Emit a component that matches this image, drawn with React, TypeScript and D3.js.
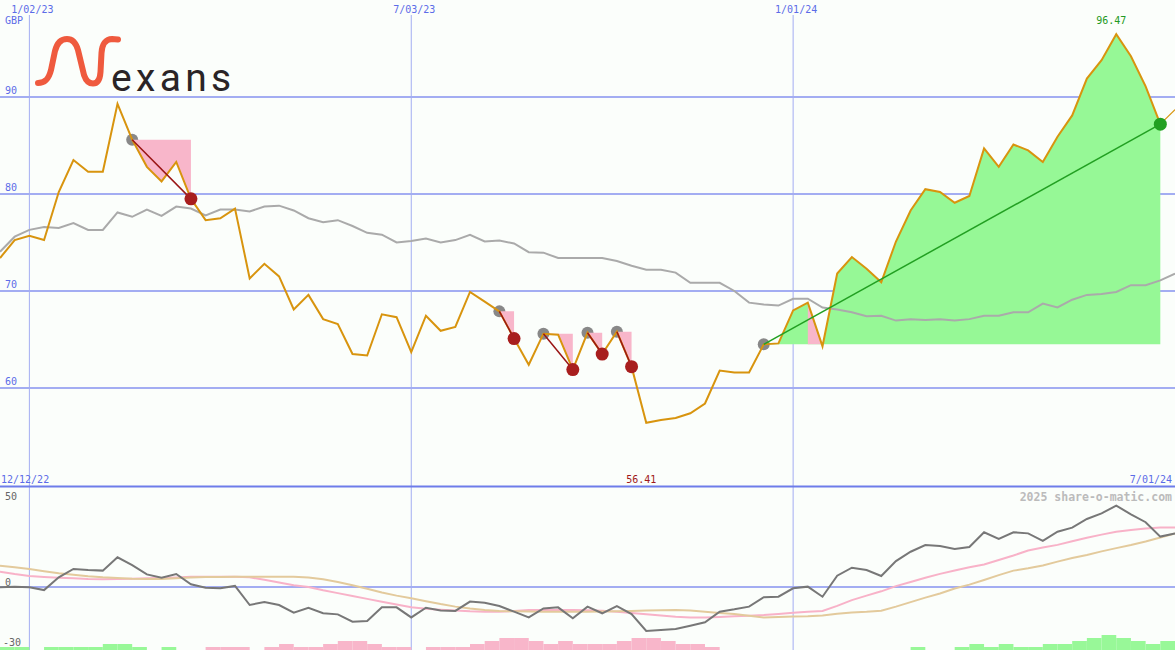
import React, { useEffect, useRef } from "react";
import * as d3 from "d3";

// weekly series, first point on the Monday below
const firstWeek = "2022-12-19";
const periodStart = "2022-12-12";
const periodEnd = "2024-07-01";

// closing price (GBP)
const closes = [
  73.4, 75.25, 75.7, 75.25, 80.2, 83.5, 82.3, 82.3, 89.3, 85.6,
  82.8, 81.3, 83.3, 79.5, 77.3, 77.5, 78.5, 71.3, 72.8, 71.5,
  68.1, 69.6, 67.1, 66.6, 63.5, 63.35, 67.6, 67.3, 63.7, 67.45,
  65.9, 66.3, 69.9, 68.9, 67.9, 65.1, 62.4, 65.6, 65.5, 61.9,
  65.7, 63.5, 65.8, 62.2, 56.41, 56.7, 56.9, 57.4, 58.4, 61.8,
  61.6, 61.6, 64.5, 64.6, 68.0, 68.8, 64.3, 71.8, 73.5, 72.3,
  70.9, 75.1, 78.3, 80.5, 80.2, 79.1, 79.8, 84.7, 82.8, 85.1,
  84.5, 83.3, 85.9, 88.1, 91.9, 93.8, 96.47, 94.2, 91.1, 87.2,
  88.7,
];

// moving average (grey)
const movingAvg = [
  74.05, 75.6, 76.3, 76.6, 76.5, 77.0, 76.3, 76.3, 78.1, 77.65,
  78.4, 77.75, 78.7, 78.5, 77.8, 78.4, 78.4, 78.2, 78.7, 78.8,
  78.3, 77.5, 77.1, 77.3, 76.7, 76.0, 75.8, 75.0, 75.15, 75.4,
  75.0, 75.25, 75.8, 75.1, 75.2, 74.9, 74.0, 73.95, 73.4, 73.4,
  73.4, 73.4, 73.1, 72.6, 72.2, 72.2, 71.9, 70.85, 70.85, 70.85,
  70.0, 68.8, 68.6, 68.5, 69.2, 69.2, 68.3, 68.1, 67.8, 67.4,
  67.45, 66.95, 67.1, 67.0, 67.1, 66.95, 67.1, 67.45, 67.45, 67.8,
  67.8, 68.7, 68.3, 69.1, 69.6, 69.7, 69.9, 70.6, 70.6, 71.1,
  71.8,
];

// lower panel: oscillator and its two averages
const oscillator = [
  -0.2, 0.2, -0.2, -1.7, 5.4, 10, 9.4, 9.1, 16.5, 12.2,
  7.0, 5.2, 7.2, 1.5, -0.4, -0.7, 0.6, -10, -8.3, -10,
  -14.3, -11.5, -14.6, -15.2, -19.3, -18.9, -11.3, -11.3, -16.9, -11.5,
  -13.1, -13.3, -8.1, -8.7, -10.6, -13.7, -16.9, -11.9, -11.3, -17.4,
  -10.9, -14.6, -10.6, -15.0, -24.4, -23.9, -23.3, -21.5, -19.6, -13.7,
  -12.4, -10.9, -5.7, -5.4, -0.7, 0.2, -5.4, 6.3, 10.7, 9.4,
  6.1, 14.4, 19.6, 23.3, 22.8, 21.1, 22.2, 30.4, 26.7, 30.4,
  29.8, 25.6, 30.7, 33.0, 37.8, 40.9, 45.2, 40.4, 36.0, 28.0,
  29.8,
];
const oscFast = [
  8.5, 7.2, 6.1, 5.6, 5.2, 4.8, 4.4, 4.3, 4.4, 4.6,
  4.8, 5.0, 5.3, 5.7, 5.7, 5.7, 5.7, 5.4, 4.0, 2.5,
  1.0, 0.0, -1.8, -3.4, -5.0, -6.6, -8.2, -9.7, -11.2, -12.1,
  -12.6, -13.1, -13.5, -13.7, -13.7, -13.3, -12.8, -12.8, -12.8, -12.8,
  -12.9, -13.2, -13.8, -14.4, -15.2, -15.9, -16.5, -16.9, -16.9, -16.6,
  -16.3, -16.0, -15.6, -15.0, -14.3, -13.8, -13.3, -10.5, -7.3, -4.8,
  -2.4, 0.5, 2.8, 5.1, 7.3, 9.2, 11.0, 12.5, 15.0, 17.5,
  20.3, 21.9, 23.4, 25.4, 27.4, 29.1, 30.7, 31.7, 32.5, 33.0,
  33.0,
];
const oscSlow = [
  11.8, 11.0, 10.0, 8.8, 7.6, 6.8, 6.0, 5.4, 5.0, 4.6,
  4.4, 4.5, 4.9, 5.3, 5.5, 5.6, 5.7, 5.7, 5.7, 5.7,
  5.7, 5.3, 4.3, 2.8, 1.0, -1.0, -3.1, -4.8, -6.3, -7.9,
  -9.5, -10.9, -12.0, -12.8, -13.3, -13.5, -13.6, -13.7, -13.7, -13.7,
  -13.7, -13.6, -13.5, -13.3, -13.1, -12.9, -12.8, -13.1, -13.7, -14.4,
  -15.0, -16.0, -16.9, -16.6, -16.4, -16.2, -15.8, -14.9, -14.2, -13.8,
  -13.2, -10.9, -8.4, -5.9, -3.6, -0.8, 1.3, 3.9, 6.6, 9.1,
  10.4, 12.0, 14.1, 16.1, 17.8, 19.8, 21.6, 23.3, 25.3, 27.5,
  29.8,
];
// histogram strength per week (+ green, - pink)
const histogram = [
  1, 1, 0, 1, 1, 1, 1, 2, 2, 1,
  0, 1, 0, 0, -1, -1, -1, 0, -1, -2,
  -1, -1, -2, -3, -3, -2, -1, -1, 0, -1,
  -1, -1, -2, -3, -4, -4, -3, -2, -3, -2,
  -2, -2, -3, -4, -4, -3, -2, -2, -1, 0,
  0, 0, 0, 0, 0, 0, 0, 0, 0, 0,
  0, 0, 1, 0, 0, 1, 2, 1, 2, 1,
  1, 2, 2, 3, 4, 5, 4, 3, 2, 3,
  3,
];

// trade signals
const tradeEntries = ["2023-02-20", "2023-08-14", "2023-09-04", "2023-09-25", "2023-10-09", "2023-12-18"];
const tradeExits = ["2023-03-20", "2023-08-21", "2023-09-18", "2023-10-02", "2023-10-16", "2024-06-24"];
const warnWeeks = ["2024-01-08"];

const priceTicks = [90, 80, 70, 60];
const oscTicks = [50, 0, -30];
const dateTicks = ["2023-01-02", "2023-07-03", "2024-01-01"];

const W = 1175;
const H = 650;
const mono = "'DejaVu Sans Mono', monospace";

export default function App() {
  const ref = useRef<SVGSVGElement>(null);

  useEffect(() => {
    if (!ref.current) return;
    document.body.style.margin = "0";
    const svg = d3.select(ref.current);
    svg.selectAll("*").remove();

    const parse = d3.timeParse("%Y-%m-%d");
    const fmt = d3.timeFormat("%-m/%d/%y");
    const start = parse(firstWeek) as Date;
    const weeks = closes.map((_, i) => d3.timeDay.offset(start, i * 7));
    const idx = (s: string) => weeks.findIndex((w) => +w === +(parse(s) as Date));

    const x = d3.scaleTime().domain([start, parse(periodEnd) as Date]).range([0, W]);
    const y = d3.scaleLinear().domain([60, 90]).range([388, 97]);
    const yo = d3.scaleLinear().domain([-30, 50]).range([641, 497]);
    const yh = d3.scaleLinear().domain([0, 5]).range([0, 15]);

    svg.append("rect").attr("width", W).attr("height", H).attr("fill", "#fbfefb");

    // grid
    const grid = "#a3adf2";
    svg.selectAll(".hg").data(priceTicks).enter().append("line")
      .attr("x1", 0).attr("x2", W).attr("y1", (d) => y(d)).attr("y2", (d) => y(d))
      .attr("stroke", grid).attr("stroke-width", 2);
    svg.append("line").attr("x1", 0).attr("x2", W).attr("y1", yo(0)).attr("y2", yo(0))
      .attr("stroke", grid).attr("stroke-width", 2);
    svg.selectAll(".vg").data(dateTicks).enter().append("line")
      .attr("x1", (d) => x(parse(d) as Date)).attr("x2", (d) => x(parse(d) as Date))
      .attr("y1", 15).attr("y2", H)
      .attr("stroke", grid).attr("stroke-width", 1);
    svg.append("line").attr("x1", 0).attr("x2", W).attr("y1", 486.5).attr("y2", 486.5)
      .attr("stroke", "#6e7cea").attr("stroke-width", 2);

    // histogram
    svg.selectAll(".hb").data(histogram.map((v, i) => ({ v, i })).filter((d) => d.v !== 0))
      .enter().append("rect")
      .attr("x", (d) => x(weeks[d.i]))
      .attr("width", (d) => x(d3.timeDay.offset(weeks[d.i], 7)) - x(weeks[d.i]))
      .attr("y", (d) => H - yh(Math.abs(d.v)))
      .attr("height", (d) => yh(Math.abs(d.v)))
      .attr("fill", (d) => (d.v > 0 ? "#98f898" : "#f8b6ca"));

    // oscillator lines
    const oline = (arr: number[]) =>
      d3.line<number>().x((_, i) => x(weeks[i])).y((d) => yo(d))(arr) as string;
    svg.append("path").attr("d", oline(oscFast)).attr("fill", "none").attr("stroke", "#f8b2c8").attr("stroke-width", 2);
    svg.append("path").attr("d", oline(oscSlow)).attr("fill", "none").attr("stroke", "#e3ca9c").attr("stroke-width", 2);
    svg.append("path").attr("d", oline(oscillator)).attr("fill", "none").attr("stroke", "#777777").attr("stroke-width", 2);

    const trades = tradeEntries.map((e, t) => {
      const a = idx(e);
      const b = idx(tradeExits[t]);
      return { a, b, win: closes[b] > closes[a] };
    });

    // entry dots under the fills
    svg.selectAll(".entry").data(trades).enter().append("circle")
      .attr("cx", (d) => x(weeks[d.a])).attr("cy", (d) => y(closes[d.a]))
      .attr("r", 6).attr("fill", "#888888");

    // trade fills
    trades.forEach((t) => {
      const base = closes[t.a];
      const ids = d3.range(t.a, t.b + 1);
      const area = d3.area<number>()
        .x((i) => x(weeks[i])).y0(y(base)).y1((i) => y(closes[i]));
      svg.append("path").attr("d", area(ids) as string)
        .attr("fill", t.win ? "#96f896" : "#f8b6ca");
      if (t.win) {
        warnWeeks.map(idx).filter((w) => w >= t.a && w < t.b).forEach((w) => {
          svg.append("path").attr("d", area([w, w + 1]) as string).attr("fill", "#f8b6ca");
        });
      }
    });

    // moving average
    const pline = d3.line<number>().x((i) => x(weeks[i])).y((i) => y(closes[i]));
    svg.append("path")
      .attr("d", d3.line<number>().x((_, i) => x(weeks[i])).y((d) => y(d))(movingAvg) as string)
      .attr("fill", "none").attr("stroke", "#aaaaaa").attr("stroke-width", 2);

    // price
    const lastExit = d3.max(trades, (t) => t.b) as number;
    svg.append("path").attr("d", pline(d3.range(0, lastExit + 1)) as string)
      .attr("fill", "none").attr("stroke", "#d8940e").attr("stroke-width", 2)
      .attr("stroke-linejoin", "miter");
    svg.append("path").attr("d", pline(d3.range(lastExit, closes.length)) as string)
      .attr("fill", "none").attr("stroke", "#d8940e").attr("stroke-width", 1.2);

    // trade lines and exits
    svg.selectAll(".tl").data(trades).enter().append("line")
      .attr("x1", (d) => x(weeks[d.a])).attr("y1", (d) => y(closes[d.a]))
      .attr("x2", (d) => x(weeks[d.b])).attr("y2", (d) => y(closes[d.b]))
      .attr("stroke", (d) => (d.win ? "#22a022" : "#9a1515")).attr("stroke-width", 1.5);
    svg.selectAll(".exit").data(trades).enter().append("circle")
      .attr("cx", (d) => x(weeks[d.b])).attr("cy", (d) => y(closes[d.b]))
      .attr("r", 6.5).attr("fill", (d) => (d.win ? "#22a022" : "#a81e1e"));

    // labels
    const label = (tx: number, ty: number, s: string, fill: string, anchor = "start") =>
      svg.append("text").attr("x", tx).attr("y", ty).attr("text-anchor", anchor)
        .attr("fill", fill).style("font-family", mono).style("font-size", "10px").text(s);
    const blue = "#5b6ce8";
    dateTicks.forEach((d) => label(x(parse(d) as Date) + 3, 12.5, fmt(parse(d) as Date), blue, "middle"));
    label(5, 24, "GBP", blue);
    priceTicks.forEach((v) => label(5, y(v) - 3, String(v), blue));
    label(1, 483, fmt(parse(periodStart) as Date), blue);
    label(W - 3, 483, fmt(parse(periodEnd) as Date), blue, "end");
    oscTicks.forEach((v) => label(v < 0 ? 3 : 5, yo(v) + (v === 50 ? 3 : v === 0 ? -1 : 5), String(v), "#666666"));

    const hi = d3.maxIndex(closes);
    const lo = d3.minIndex(closes);
    label(x(weeks[hi]) - 5, y(closes[hi]) - 10, closes[hi].toFixed(2), "#229922", "middle");
    label(x(weeks[lo]) - 5, 483, closes[lo].toFixed(2), "#a01818", "middle");

    svg.append("text").attr("x", W - 3).attr("y", 500.5).attr("text-anchor", "end")
      .attr("fill", "#bbbbbb").style("font-family", mono).style("font-size", "11.5px")
      .style("font-weight", "bold").text("2025 share-o-matic.com");

    // logo
    const logo = svg.append("g");
    logo.append("path")
      .attr("d", "M38,83 C46,83 49,78 51,70 L55,51 C57,43 61,39 67,39 C73,39 76,43 78,50 L84,75 C86,81 89,83.5 93,83.5 C98,83.5 100,79 100.5,72 L101.5,53 C102,44 106,39 112,39 L118,39.5")
      .attr("fill", "none").attr("stroke", "#ef5a3e").attr("stroke-width", 6).attr("stroke-linecap", "round");
    logo.append("text").attr("x", 111).attr("y", 90.5)
      .attr("fill", "#2a2426").style("font-family", "Roboto, sans-serif").style("font-size", "39px")
      .style("letter-spacing", "4.3px").text("exans");
  }, []);

  return <svg ref={ref} width={W} height={H} style={{ display: "block" }} />;
}
